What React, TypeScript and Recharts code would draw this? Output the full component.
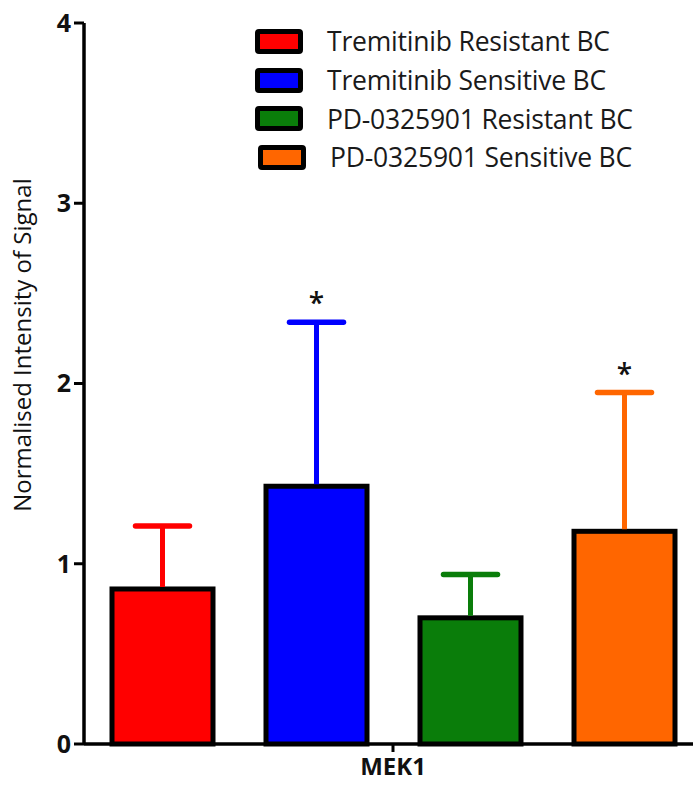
import React from "react";
import { ComposedChart, Bar, XAxis, YAxis, Legend } from "recharts";

// one category, four groups
const categories = ["MEK1"];
const seriesNames = [
  "Tremitinib Resistant BC",
  "Tremitinib Sensitive BC",
  "PD-0325901 Resistant BC",
  "PD-0325901 Sensitive BC",
];
const seriesKeys = ["tremRes", "tremSens", "pdRes", "pdSens"];
const means = [0.86, 1.43, 0.7, 1.18];
const sems = [0.35, 0.91, 0.24, 0.77];
const significant = [false, true, false, true];
const yTicks = [0, 1, 2, 3, 4];

const colors = ["#ff0000", "#0000ff", "#0a7d0a", "#ff6600"];
const FONT = "'Open Sans', sans-serif";

const data = categories.map((name) => {
  const row: Record<string, string | number> = { name };
  seriesKeys.forEach((k, i) => {
    row[k] = means[i];
  });
  return row;
});

function makeShape(i: number) {
  return function BarShape(props: any) {
    const { x, y, width, height, payload } = props;
    const v = payload[seriesKeys[i]] as number;
    const unit = height / v;
    const top = y - sems[i] * unit;
    const cx = x + width / 2;
    return (
      <g>
        <rect x={x} y={y} width={width} height={height} fill={colors[i]} stroke="#000" strokeWidth={5} />
        <line x1={cx} x2={cx} y1={y - 2} y2={top} stroke={colors[i]} strokeWidth={5} />
        <line
          x1={cx - 27}
          x2={cx + 27}
          y1={top}
          y2={top}
          stroke={colors[i]}
          strokeWidth={5.5}
          strokeLinecap="round"
        />
        {significant[i] && (
          <text
            x={cx}
            y={top - 9}
            textAnchor="middle"
            fontFamily={FONT}
            fontSize={28}
            fontWeight={600}
            fill="#111"
          >
            *
          </text>
        )}
      </g>
    );
  };
}

function LegendBox() {
  return (
    <div style={{ fontFamily: FONT }}>
      {seriesNames.map((n, i) => (
        <div
          key={n}
          style={{ display: "flex", alignItems: "center", height: 38.7, marginLeft: i === 3 ? 3 : 0 }}
        >
          <div
            style={{
              width: 38,
              height: 15,
              background: colors[i],
              border: "5px solid #000",
              borderRadius: 4,
            }}
          />
          <span
            style={{
              marginLeft: 24,
              fontSize: 26.5,
              letterSpacing: -0.2,
              color: "#1a1a1a",
              whiteSpace: "nowrap",
            }}
          >
            {n}
          </span>
        </div>
      ))}
    </div>
  );
}

function YLabel() {
  return (
    <text
      x={31}
      y={345}
      transform="rotate(-90 31 345)"
      textAnchor="middle"
      fontFamily={FONT}
      fontSize={24}
      fontWeight={500}
      fill="#111"
    >
      Normalised Intensity of Signal
    </text>
  );
}

export default function App() {
  return (
    <div
      style={{
        position: "absolute",
        left: 0,
        top: 0,
        width: 693,
        height: 789,
        overflow: "hidden",
        background: "#fff",
      }}
    >
      <ComposedChart
        width={702}
        height={789}
        data={data}
        margin={{ top: 23, right: 0, bottom: 0, left: 0 }}
        barSize={101}
        barGap={53}
      >
        <XAxis
          dataKey="name"
          height={45}
          tickSize={8}
          tickMargin={6}
          axisLine={{ stroke: "#000", strokeWidth: 3.5 }}
          tickLine={{ stroke: "#000", strokeWidth: 3 }}
          tick={{ fontFamily: FONT, fontSize: 24, fontWeight: 700, fill: "#111" }}
        />
        <YAxis
          width={84}
          domain={[0, 4]}
          ticks={yTicks}
          tickSize={10}
          tickMargin={3}
          axisLine={{ stroke: "#000", strokeWidth: 3.5 }}
          tickLine={{ stroke: "#000", strokeWidth: 3 }}
          tick={{ fontFamily: FONT, fontSize: 25, fontWeight: 700, fill: "#111" }}
          label={{ content: () => <YLabel /> }}
        />
        <Legend
          layout="vertical"
          verticalAlign="middle"
          align="center"
          content={() => <LegendBox />}
          wrapperStyle={{ left: 255, top: 22, width: 438 }}
        />
        {seriesKeys.map((k, i) => (
          <Bar
            key={k}
            dataKey={k}
            name={seriesNames[i]}
            fill={colors[i]}
            shape={makeShape(i)}
            isAnimationActive={false}
          />
        ))}
      </ComposedChart>
    </div>
  );
}
